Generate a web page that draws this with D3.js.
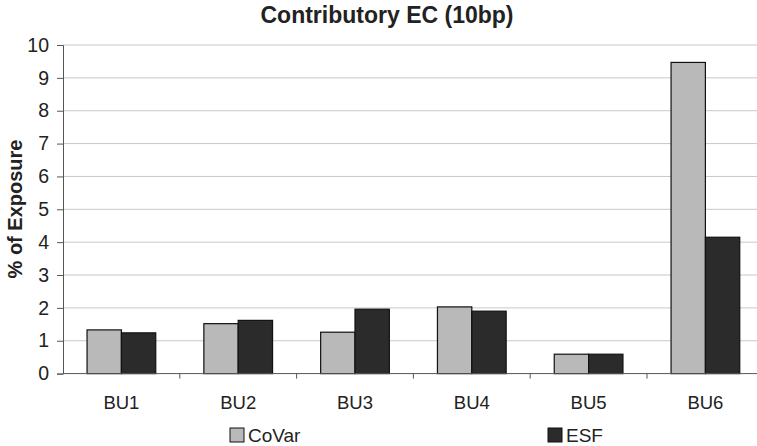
<!DOCTYPE html>
<html>
<head>
<meta charset="utf-8">
<script src="https://cdn.jsdelivr.net/npm/d3@7"></script>
<style>
  body { margin: 0; background: #fff; }
  text { font-family: "Liberation Sans", Arial, sans-serif; fill: #222; }
</style>
</head>
<body>
<svg id="chart" width="757" height="446"></svg>
<script>
const categories = ["BU1", "BU2", "BU3", "BU4", "BU5", "BU6"];
const seriesNames = ["CoVar", "ESF"];
const covar = [1.33, 1.52, 1.26, 2.03, 0.59, 9.47];
const esf = [1.24, 1.62, 1.96, 1.90, 0.59, 4.15];
const yTicks = [0, 1, 2, 3, 4, 5, 6, 7, 8, 9, 10];

const colors = { CoVar: "#b9b9b9", ESF: "#2b2b2b" };
const svg = d3.select("#chart");

const plotLeft = 63, plotTop = 45, plotBottom = 373.6;
const step = 116.8;
const plotRight = plotLeft + step * categories.length;

const x = d3.scaleBand()
  .domain(categories)
  .range([plotLeft, plotRight])
  .paddingInner(0)
  .paddingOuter(0);

const y = d3.scaleLinear().domain([0, 10]).range([plotBottom, plotTop]);

// gridlines
svg.append("g")
  .selectAll("line")
  .data(yTicks.slice(1))
  .join("line")
  .attr("x1", plotLeft)
  .attr("x2", plotRight)
  .attr("y1", (d) => y(d))
  .attr("y2", (d) => y(d))
  .attr("stroke", "#c8c8c8")
  .attr("stroke-width", 1);

// bars
const barW = step / 3.4;
const rows = categories.map((c, i) => ({ cat: c, values: [covar[i], esf[i]] }));
const groups = svg.append("g")
  .selectAll("g")
  .data(rows)
  .join("g")
  .attr("transform", (d) => `translate(${x(d.cat) + x.bandwidth() / 2 - barW},0)`);

groups.selectAll("rect")
  .data((d) => d.values.map((v, j) => ({ v, name: seriesNames[j], j })))
  .join("rect")
  .attr("x", (d) => d.j * barW)
  .attr("y", (d) => y(d.v))
  .attr("width", barW)
  .attr("height", (d) => y(0) - y(d.v))
  .attr("fill", (d) => colors[d.name])
  .attr("stroke", "#111")
  .attr("stroke-width", 1.2);

// y axis
const yAxis = svg.append("g")
  .attr("transform", `translate(${plotLeft},0)`)
  .call(d3.axisLeft(y).tickValues(yTicks).tickSize(6).tickPadding(8));
yAxis.select(".domain").attr("stroke", "#555");
yAxis.selectAll(".tick line").attr("stroke", "#555");
yAxis.selectAll(".tick text").attr("font-size", 19.5).attr("fill", "#222");

// x axis
const xAxis = svg.append("g")
  .attr("transform", `translate(0,${plotBottom})`);
xAxis.append("line")
  .attr("x1", plotLeft).attr("x2", plotRight)
  .attr("stroke", "#555");
xAxis.selectAll("line.tk")
  .data(categories)
  .join("line")
  .attr("class", "tk")
  .attr("x1", (d) => x(d) + x.bandwidth())
  .attr("x2", (d) => x(d) + x.bandwidth())
  .attr("y1", 0).attr("y2", 5)
  .attr("stroke", "#555");
xAxis.selectAll("text")
  .data(categories)
  .join("text")
  .attr("x", (d) => x(d) + x.bandwidth() / 2)
  .attr("y", 35.5)
  .attr("text-anchor", "middle")
  .attr("font-size", 18.5)
  .text((d) => d);

// title
svg.append("text")
  .attr("x", 387)
  .attr("y", 23)
  .attr("text-anchor", "middle")
  .attr("font-size", 23)
  .attr("font-weight", "bold")
  .text("Contributory EC (10bp)");

// y label
svg.append("text")
  .attr("transform", "translate(22,209) rotate(-90)")
  .attr("text-anchor", "middle")
  .attr("font-size", 20)
  .attr("font-weight", "bold")
  .text("% of Exposure");

// legend
const legendPos = [230, 548];
const legend = svg.append("g")
  .selectAll("g")
  .data(seriesNames)
  .join("g")
  .attr("transform", (d, i) => `translate(${legendPos[i]},428)`);
legend.append("rect")
  .attr("width", 14).attr("height", 14)
  .attr("fill", (d) => colors[d])
  .attr("stroke", "#111");
legend.append("text")
  .attr("x", 18).attr("y", 13.5)
  .attr("font-size", 19)
  .text((d) => d);
</script>
</body>
</html>
